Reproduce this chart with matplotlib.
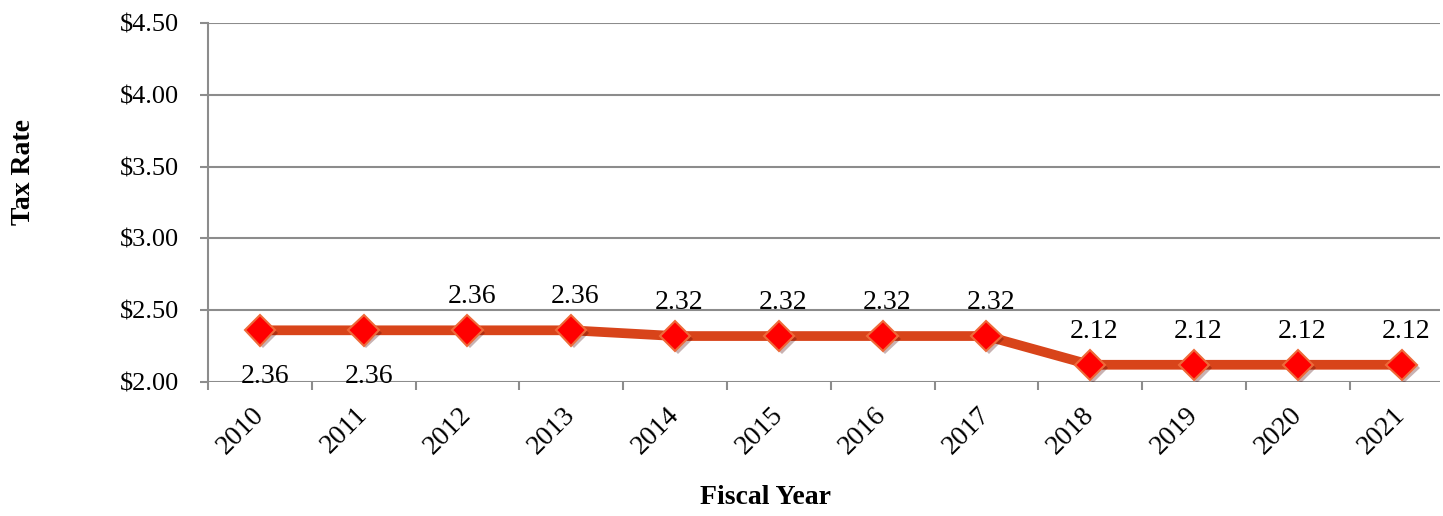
import matplotlib.pyplot as plt
import matplotlib.patheffects as pe

plt.rcParams['font.family'] = ['Liberation Serif', 'DejaVu Serif']

years = ['2010', '2011', '2012', '2013', '2014', '2015',
         '2016', '2017', '2018', '2019', '2020', '2021']
tax_rate = [2.36, 2.36, 2.36, 2.36, 2.32, 2.32, 2.32, 2.32, 2.12, 2.12, 2.12, 2.12]
label_below = ['2010', '2011']

fig = plt.figure(figsize=(14.43, 5.16), dpi=100)
ax = fig.add_axes([208 / 1443, 1 - 382 / 516, 1232 / 1443, 359 / 516])

x = list(range(len(years)))
ax.plot(x, tax_rate, color='#D8441A', lw=7, zorder=3, solid_capstyle='butt')
ax.plot(x, tax_rate, ls='none', marker='D', ms=15.5, mfc='#FF0000', mec='#EE6A3A', mew=1.5,
        zorder=4, path_effects=[pe.withSimplePatchShadow(offset=(2, -2), alpha=0.3)])

for i, (yr, v) in enumerate(zip(years, tax_rate)):
    if yr in label_below:
        ax.annotate(f'{v:.2f}', (i, v), xytext=(4, -33), textcoords='offset points',
                    ha='center', va='center', fontsize=20)
    else:
        ax.annotate(f'{v:.2f}', (i, v), xytext=(3, 24), textcoords='offset points',
                    ha='center', va='center', fontsize=20)

ax.set_ylim(2.0, 4.5)
ax.set_yticks([2.0, 2.5, 3.0, 3.5, 4.0, 4.5])
ax.set_yticklabels([f'${t:.2f}' for t in [2.0, 2.5, 3.0, 3.5, 4.0, 4.5]], fontsize=19)
ax.set_xlim(-0.5, 11.37)
ax.set_xticks(x)
ax.set_xticklabels(years, fontsize=20, rotation=45, ha='right', va='center',
                   rotation_mode='anchor')
ax.set_xticks([i + 0.5 for i in range(-1, 11)], minor=True)
ax.tick_params(axis='x', which='major', length=0, pad=21)
ax.tick_params(axis='x', which='minor', length=6, width=1.5, color='#8c8c8c', direction='out')
ax.tick_params(axis='y', length=6, width=1.5, color='#8c8c8c', pad=15)

ax.grid(axis='y', color='#8c8c8c', lw=1.5)
ax.set_axisbelow(True)
for s in ['top', 'right', 'bottom']:
    ax.spines[s].set_visible(False)
ax.spines['left'].set_color('#8c8c8c')
ax.spines['left'].set_linewidth(1.5)

fig.text(24 / 1443, 1 - 172 / 516, 'Tax Rate', rotation=90, ha='center', va='center',
         fontsize=20, fontweight='bold')
fig.text(765 / 1443, 1 - 497 / 516, 'Fiscal Year', ha='center', va='center',
         fontsize=20, fontweight='bold')

fig.savefig('out.png', dpi=100)
